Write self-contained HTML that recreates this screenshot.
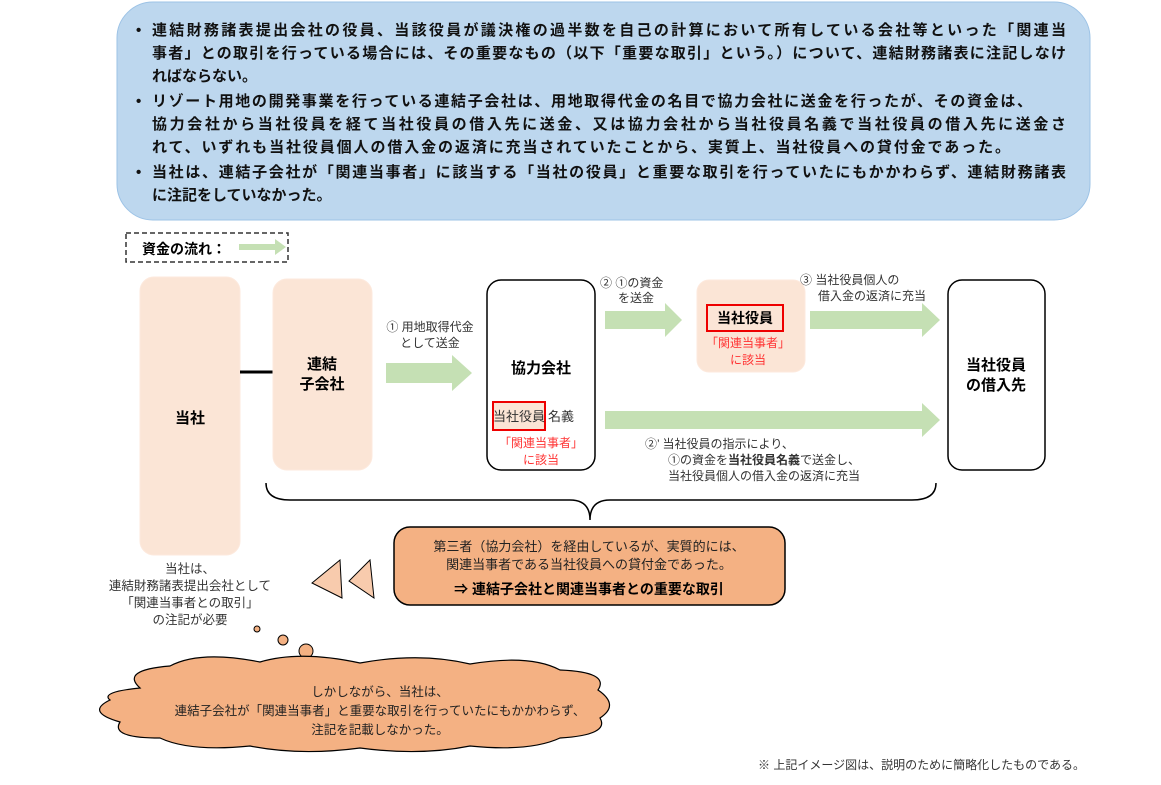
<!DOCTYPE html>
<html><head><meta charset="utf-8"><style>
body{margin:0;background:#fff;}
svg text{font-family:"Liberation Sans","Noto Sans CJK JP",sans-serif;}
</style></head><body>
<svg width="1161" height="780" viewBox="0 0 1161 780" xmlns="http://www.w3.org/2000/svg">
<rect x="117" y="2" width="973" height="218" rx="36" fill="#bdd7ee" stroke="#9dc3e6"/>
<g font-size="15" font-weight="bold" fill="#111">
<text x="136" y="35">•</text>
<text x="152" y="35" textLength="914" lengthAdjust="spacing">連結財務諸表提出会社の役員、当該役員が議決権の過半数を自己の計算において所有している会社等といった「関連当</text>
<text x="152" y="58" textLength="914" lengthAdjust="spacing">事者」との取引を行っている場合には、その重要なもの（以下「重要な取引」という。）について、連結財務諸表に注記しなけ</text>
<text x="152" y="81">ればならない。</text>
<text x="136" y="106">•</text>
<text x="152" y="106" textLength="880" lengthAdjust="spacing">リゾート用地の開発事業を行っている連結子会社は、用地取得代金の名目で協力会社に送金を行ったが、その資金は、</text>
<text x="152" y="129" textLength="914" lengthAdjust="spacing">協力会社から当社役員を経て当社役員の借入先に送金、又は協力会社から当社役員名義で当社役員の借入先に送金さ</text>
<text x="152" y="152" textLength="858" lengthAdjust="spacing">れて、いずれも当社役員個人の借入金の返済に充当されていたことから、実質上、当社役員への貸付金であった。</text>
<text x="136" y="177">•</text>
<text x="152" y="177" textLength="914" lengthAdjust="spacing">当社は、連結子会社が「関連当事者」に該当する「当社の役員」と重要な取引を行っていたにもかかわらず、連結財務諸表</text>
<text x="152" y="200">に注記をしていなかった。</text>
</g>
<rect x="126" y="233" width="162" height="29" fill="none" stroke="#333" stroke-dasharray="5,3" stroke-width="1.5"/>
<text x="142" y="254" font-size="14" font-weight="bold">資金の流れ：</text>
<path d="M239,244 H275 V239 L286,247 L275,255 V250 H239 Z" fill="#c5e0b4"/>
<rect x="140" y="277" width="100" height="278" rx="14" fill="#fbe5d6" stroke="#fde9dd"/>
<text x="190" y="423" font-size="15" font-weight="bold" text-anchor="middle">当社</text>
<line x1="240" y1="372" x2="273" y2="372" stroke="#000" stroke-width="3"/>
<rect x="273" y="279" width="99" height="191" rx="14" fill="#fbe5d6" stroke="#fde9dd"/>
<text x="322" y="369" font-size="15" font-weight="bold" text-anchor="middle">連結</text>
<text x="322" y="389" font-size="15" font-weight="bold" text-anchor="middle">子会社</text>
<text x="430" y="331" font-size="12" text-anchor="middle" fill="#333">① 用地取得代金</text>
<text x="430" y="347" font-size="12" text-anchor="middle" fill="#333">として送金</text>
<path d="M386,363 H452 V355 L472,373 L452,391 V383 H386 Z" fill="#c5e0b4"/>
<rect x="487" y="280" width="108" height="190" rx="14" fill="#fff" stroke="#000" stroke-width="1.5"/>
<text x="541" y="373" font-size="15" font-weight="bold" text-anchor="middle">協力会社</text>
<rect x="493" y="402" width="52" height="28" fill="#fbe5d6" stroke="#e00" stroke-width="2"/>
<text x="519" y="421" font-size="13" text-anchor="middle" fill="#333">当社役員</text>
<text x="561" y="421" font-size="13" text-anchor="middle" fill="#333">名義</text>
<text x="541" y="447" font-size="12" text-anchor="middle" fill="#f33">「関連当事者」</text>
<text x="541" y="464" font-size="12" text-anchor="middle" fill="#f33">に該当</text>
<text x="600" y="287" font-size="12" fill="#333">② ①の資金</text>
<text x="618" y="302" font-size="12" fill="#333">を送金</text>
<path d="M605,311 H665 V303 L682,320 L665,337 V329 H605 Z" fill="#c5e0b4"/>
<rect x="697" y="280" width="108" height="92" rx="12" fill="#fbe5d6" stroke="#fde9dd"/>
<rect x="707" y="305" width="76" height="26" fill="none" stroke="#e00" stroke-width="2"/>
<text x="745" y="323" font-size="14" font-weight="bold" text-anchor="middle">当社役員</text>
<text x="748" y="347" font-size="12" text-anchor="middle" fill="#f33">「関連当事者」</text>
<text x="748" y="364" font-size="12" text-anchor="middle" fill="#f33">に該当</text>
<text x="800" y="284" font-size="12" fill="#333">③ 当社役員個人の</text>
<text x="818" y="300" font-size="12" fill="#333">借入金の返済に充当</text>
<path d="M810,311 H922 V303 L940,320 L922,337 V329 H810 Z" fill="#c5e0b4"/>
<path d="M605,411 H922 V403 L940,420 L922,437 V429 H605 Z" fill="#c5e0b4"/>
<rect x="948" y="280" width="97" height="190" rx="14" fill="#fff" stroke="#000" stroke-width="1.5"/>
<text x="996" y="370" font-size="15" font-weight="bold" text-anchor="middle">当社役員</text>
<text x="996" y="390" font-size="15" font-weight="bold" text-anchor="middle">の借入先</text>
<g font-size="12" fill="#333">
<text x="645" y="448">②’ 当社役員の指示により、</text>
<text x="668" y="464">①の資金を<tspan font-weight="bold">当社役員名義</tspan>で送金し、</text>
<text x="668" y="480">当社役員個人の借入金の返済に充当</text>
</g>
<path d="M266,483 Q266,500 290,500 H570 Q590,500 590,520 Q590,500 610,500 H912 Q936,500 936,483" fill="none" stroke="#000" stroke-width="1.5"/>
<rect x="394" y="527" width="391" height="78" rx="16" fill="#f4b183" stroke="#000" stroke-width="1.5"/>
<text x="589" y="551" font-size="13" text-anchor="middle" fill="#222">第三者（協力会社）を経由しているが、実質的には、</text>
<text x="589" y="569" font-size="13" text-anchor="middle" fill="#222">関連当事者である当社役員への貸付金であった。</text>
<text x="589" y="594" font-size="14" font-weight="bold" text-anchor="middle">⇒  連結子会社と関連当事者との重要な取引</text>
<path d="M340,560 L312,583 L342,598 Z" fill="#f8cbad" stroke="#000"/>
<path d="M370,560 L349,581 L374,598 Z" fill="#f8cbad" stroke="#000"/>
<g font-size="12.5" fill="#333" text-anchor="middle">
<text x="190" y="573">当社は、</text>
<text x="190" y="590">連結財務諸表提出会社として</text>
<text x="190" y="607">「関連当事者との取引」</text>
<text x="190" y="624">の注記が必要</text>
</g>
<circle cx="257" cy="629" r="3" fill="#f4b183" stroke="#000"/>
<circle cx="283" cy="640" r="5" fill="#f4b183" stroke="#000"/>
<circle cx="306" cy="651" r="7" fill="#f4b183" stroke="#000"/>
<path d="M140,688 Q120,670 170,666 Q200,650 260,662 Q300,650 360,663 Q420,652 470,664 Q530,654 560,670 Q610,672 598,690 Q620,705 600,718 Q610,735 560,738 Q530,752 470,746 Q420,756 360,748 Q300,756 250,746 Q190,752 160,738 Q110,738 120,722 Q85,712 110,700 Q100,692 140,688 Z" fill="#f4b183" stroke="#000" stroke-width="1.2"/>
<g font-size="12.5" fill="#222" text-anchor="middle">
<text x="380" y="696">しかしながら、当社は、</text>
<text x="380" y="715">連結子会社が「関連当事者」と重要な取引を行っていたにもかかわらず、</text>
<text x="380" y="734">注記を記載しなかった。</text>
</g>
<text x="1085" y="769" font-size="12" fill="#333" text-anchor="end">※ 上記イメージ図は、説明のために簡略化したものである。</text>
</svg>
</body></html>
